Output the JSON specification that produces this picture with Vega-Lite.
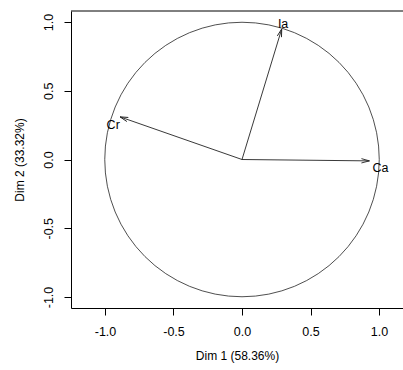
{
  "$schema": "https://vega.github.io/schema/vega-lite/v6.json",
  "width": 332,
  "height": 297,
  "autosize": {"type": "none"},
  "padding": {"left": 71, "top": 11, "right": 0, "bottom": 62},
  "background": "white",
  "config": {
    "view": {"stroke": null},
    "font": "Liberation Sans",
    "axis": {"grid": false, "domainColor": "#000", "tickColor": "#000", "labelColor": "#000", "titleColor": "#000", "labelFont": "Liberation Sans", "titleFont": "Liberation Sans", "labelFontSize": 12.5, "titleFontSize": 12, "titleFontWeight": "normal"}
  },
  "datasets": {
    "vars": [
      {"name": "Ca", "x": 0.93, "y": -0.01, "lx": 1.01, "ly": -0.06},
      {"name": "Ia", "x": 0.29, "y": 0.95, "lx": 0.30, "ly": 0.985},
      {"name": "Cr", "x": -0.89, "y": 0.31, "lx": -0.94, "ly": 0.25}
    ],
    "origin": [{"x": 0, "y": 0}]
  },
  "layer": [
    {
      "data": {"name": "origin"},
      "mark": {"type": "point", "shape": "circle", "filled": false, "size": 75350, "stroke": "#222", "strokeWidth": 0.8, "opacity": 1, "clip": true},
      "encoding": {
        "x": {"field": "x", "type": "quantitative", "scale": {"domain": [-1.248, 1.175], "nice": false, "zero": false},
          "axis": {"values": [-1, -0.5, 0, 0.5, 1], "format": ".1f", "labelExpr": "replace(datum.label, '\u2212', '-')", "title": "Dim 1 (58.36%)", "tickSize": 7, "labelPadding": 10, "titlePadding": 13, "labelFlush": false, "domainWidth": 1}},
        "y": {"field": "y", "type": "quantitative", "scale": {"domain": [-1.08, 1.08], "nice": false, "zero": false},
          "axis": {"values": [-1, -0.5, 0, 0.5, 1], "format": ".1f", "labelExpr": "replace(datum.label, '\u2212', '-')", "title": "Dim 2 (33.32%)", "tickSize": 7, "labelAngle": -90, "labelAlign": "center", "labelBaseline": "bottom", "labelPadding": 9, "titlePadding": 16, "labelFlush": false}}
      }
    },
    {
      "data": {"name": "vars"},
      "mark": {"type": "rule", "stroke": "#222", "strokeWidth": 0.9},
      "encoding": {
        "x": {"field": "x", "type": "quantitative"},
        "y": {"field": "y", "type": "quantitative"},
        "x2": {"datum": 0},
        "y2": {"datum": 0}
      }
    },
    {
      "data": {"name": "vars"},
      "transform": [{"calculate": "-atan2(datum.y, datum.x) * 180 / PI", "as": "ang"}],
      "mark": {"type": "point", "shape": "M-1,-0.27L0,0L-1,0.27", "filled": false, "size": 256, "stroke": "#222", "strokeWidth": 0.9, "opacity": 1},
      "encoding": {
        "x": {"field": "x", "type": "quantitative"},
        "y": {"field": "y", "type": "quantitative"},
        "angle": {"field": "ang", "type": "quantitative", "scale": null}
      }
    },
    {
      "data": {"name": "vars"},
      "mark": {"type": "text", "fontSize": 12.5, "font": "Liberation Sans", "color": "#000", "align": "center", "baseline": "middle"},
      "encoding": {
        "x": {"field": "lx", "type": "quantitative"},
        "y": {"field": "ly", "type": "quantitative"},
        "text": {"field": "name"}
      }
    },
    {
      "data": {"name": "origin"},
      "mark": {"type": "rule", "stroke": "#000", "strokeWidth": 1},
      "encoding": {
        "y": {"datum": 1.08}
      }
    }
  ]
}
